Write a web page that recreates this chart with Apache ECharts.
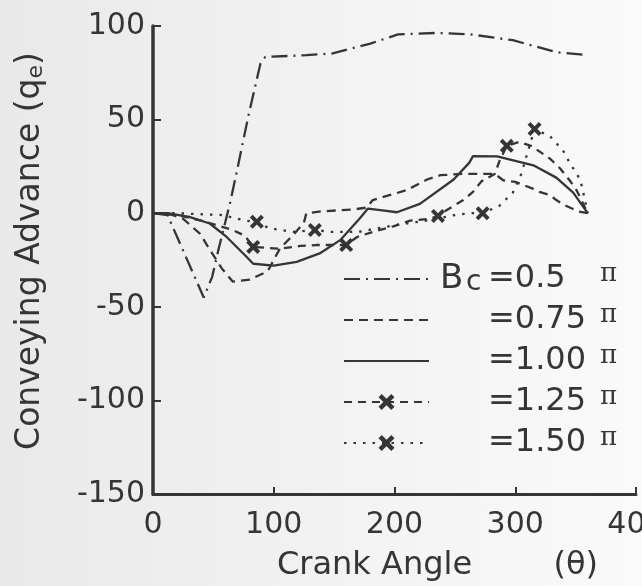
<!DOCTYPE html>
<html>
<head>
<meta charset="utf-8">
<script src="https://cdn.jsdelivr.net/npm/echarts@6/dist/echarts.min.js"></script>
<style>
 html, body { margin: 0; padding: 0; }
 body { background: linear-gradient(90deg, #e9e9e9 0%, #f1f1f1 45%, #fafafa 100%); }
 #chart { width: 642px; height: 586px; }
</style>
</head>
<body>
<div id="chart"></div>
<script>
// crank angle (deg) vs conveying advance
const bc050 = [[0,0],[12,-1],[42,-45],[49,-34],[54,-20],[64,6],[69,21],[79,52],[89,80],[93,83.5],[127,84.4],[148,85.3],[180,90.6],[203,95.5],[235,96.3],[262,95.6],[298,92.4],[334,86],[360,84.4]]
const bc075 = [[0,0],[12,0],[25,-3],[39,-11],[49,-21.5],[57,-29.5],[66,-36.5],[80,-35.5],[95,-31],[105,-19],[117,-11],[125,-5],[127,0],[140,1],[166,2],[177,3],[182,7],[210,12.3],[227,18],[238,20.3],[257,21],[283,21],[290,17.6],[300,16.7],[307,15],[315,13],[320,11.4],[329,9.6],[334,7],[341,4.3],[347,2.5],[354,0.7],[360,0]]
const bc100 = [[0,0],[12,0],[30,-2],[47,-5.5],[61,-12.7],[77,-23],[83,-27],[100,-28],[119,-26],[138,-21.5],[155,-14.4],[171,-3],[178,2.5],[190,1.5],[202,0.5],[221,5],[249,18],[262,27],[265,30.5],[285,30.4],[300,28],[315,25.6],[334,19],[348,11],[360,0]]
const bc125 = [[0,0],[20,-1],[40,-4],[66,-9],[76,-12],[83,-18],[105,-19],[122,-17.5],[135,-17],[160,-17],[169,-12.7],[182,-10],[199,-7],[213,-4],[229,-3],[236,-1.5],[243,1.6],[257,7],[265,11.4],[272,17],[283,21],[287,28],[293,36],[303,38],[313,36],[320,33],[329,29],[337,24],[345,17.6],[351,12],[360,0]]
const bc150 = [[0,0],[20,0],[57,-1],[77,-4],[86,-4.6],[96,-8],[116,-10],[134,-9],[148,-10],[170,-10],[199,-6.5],[229,-3.7],[250,-1],[262,0],[273,0],[287,4],[298,11],[305,21],[310,32],[316,45],[329,41],[336,36],[340,33],[345,27],[350,22],[354,17.6],[356,12],[360,0]]

// angles where the x marks sit
const marks125 = [83, 160, 236, 293]
const marks150 = [86, 134, 273, 316]

const xTicks = [0, 400, 100]
const yTicks = [-150, 100, 50]

const ink = '#353535'
const font = 'DejaVu Sans'
const xMark = 'path://M0,2L2,0L5,3L8,0L10,2L7,5L10,8L8,10L5,7L2,10L0,8L3,5Z'

function marked(points, marks) {
 return points.map(p => marks.includes(p[0])
 ? { value: p }
 : { value: p, symbol: 'none' })
}

const legendText = {
 'Bc=0.5': '{B|B}{c|c}{v|=0.5}{p|π}',
 '=0.75': '{g|}{v|=0.75}{p|π}',
 '=1.00': '{g|}{v|=1.00}{p|π}',
 '=1.25': '{g|}{v|=1.25}{p|π}',
 '=1.50': '{g|}{v|=1.50}{p|π}',
}

const chart = echarts.init(document.getElementById('chart'))

function line(name, data, type, extra) {
 return Object.assign({
 name,
 type: 'line',
 data,
 symbol: 'none',
 lineStyle: { color: ink, width: 2.3, type },
 // no symbol on the plain lines, so keep their legend dot invisible
 itemStyle: { color: 'rgba(0,0,0,0)' },
 z: 3,
 }, extra || {})
}

chart.setOption({
 animation: false,
 backgroundColor: 'transparent',
 textStyle: { fontFamily: font, color: ink },
 grid: { left: 153, right: 6, top: 26, bottom: 92, outerBoundsMode: 'none', containLabel: false },
 xAxis: {
 type: 'value',
 min: xTicks[0], max: xTicks[1], interval: xTicks[2],
 name: 'Crank Angle        (θ)',
 nameLocation: 'middle',
 nameGap: 56,
 nameTextStyle: { fontSize: 32, fontFamily: font, color: ink, padding: [0, 0, 0, 86] },
 axisLine: { onZero: false, lineStyle: { color: ink, width: 3 } },
 axisTick: { inside: true, length: 7, lineStyle: { color: ink, width: 2 } },
 axisLabel: { fontSize: 30, fontFamily: font, color: ink, margin: 16 },
 splitLine: { show: false },
 },
 yAxis: {
 type: 'value',
 min: yTicks[0], max: yTicks[1], interval: yTicks[2],
 name: '{n|Conveying Advance (q}{s|e}{n|)}',
 nameLocation: 'middle',
 nameRotate: 90,
 nameGap: 106,
 nameTextStyle: {
 padding: [0, 0, 0, 18],
 rich: {
 n: { fontSize: 33, fontFamily: font, color: ink },
 s: { fontSize: 22, fontFamily: font, color: ink, padding: [12, 0, 0, 0] },
 },
 },
 axisLine: { lineStyle: { color: ink, width: 3.5 } },
 axisTick: { inside: true, length: 8, lineStyle: { color: ink, width: 2 } },
 axisLabel: { fontSize: 30, fontFamily: font, color: ink, margin: 8 },
 splitLine: { show: false },
 },
 legend: {
 orient: 'vertical',
 left: 338,
 top: 256,
 itemWidth: 85,
 itemHeight: 20,
 itemGap: 5,
 backgroundColor: 'transparent',
 formatter: n => legendText[n],
 textStyle: {
 color: ink,
 rich: {
 B: { fontSize: 34, fontFamily: font, width: 26, lineHeight: 32, padding: [0, 0, 0, 6], color: ink },
 c: { fontSize: 28, fontFamily: font, width: 22, lineHeight: 24, padding: [8, 0, 0, 0], color: ink },
 g: { width: 48, lineHeight: 32, padding: [0, 0, 0, 6] },
 v: { fontSize: 32, fontFamily: font, width: 112, lineHeight: 32, color: ink },
 p: { fontSize: 26, fontFamily: 'DejaVu Serif', lineHeight: 22, padding: [0, 0, 10, 0], color: ink },
 },
 },
 },
 series: [
 line('Bc=0.5', bc050, [16, 6, 2, 6]),
 line('=0.75', bc075, [9, 6]),
 line('=1.00', bc100, 'solid'),
 line('=1.25', marked(bc125, marks125), [8, 6], { symbol: xMark, symbolSize: 14, showSymbol: true, itemStyle: { color: ink } }),
 line('=1.50', marked(bc150, marks150), [2.5, 7], { symbol: xMark, symbolSize: 14, showSymbol: true, itemStyle: { color: ink } }),
 ],
})
</script>
</body>
</html>
